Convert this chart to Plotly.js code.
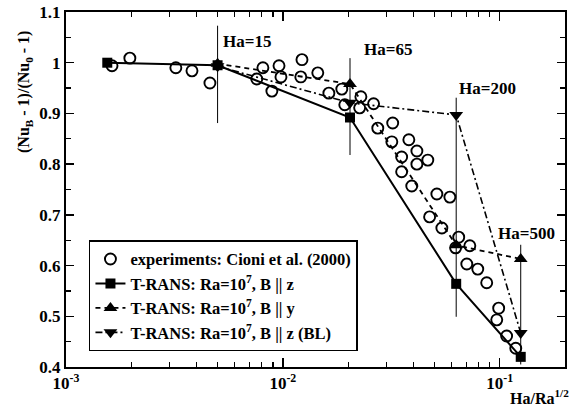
<!DOCTYPE html>
<html>
<head>
<meta charset="utf-8">
<script src="https://cdn.plot.ly/plotly-3.0.1.min.js"></script>
<style>html,body{margin:0;padding:0;background:#fff;}#plot{width:583px;height:410px;}</style>
</head>
<body>
<div id="plot"></div>
<script>
// Experimental data (Cioni et al. 2000)
const expX = [0.00163,0.00197,0.00321,0.00381,0.00461,0.00758,0.00809,0.0089,0.0096,0.0098,
  0.01225,0.0121,0.01449,0.0163,0.0187,0.0193,0.0229,0.0226,0.0262,0.0274,
  0.0321,0.0318,0.0381,0.0353,0.0415,0.0415,0.0466,0.0353,0.0393,0.0513,
  0.0589,0.0475,0.0541,0.0647,0.0626,0.0728,0.0705,0.0792,0.0871,0.0989,
  0.0969,0.1076,0.1186];
const expY = [0.994,1.009,0.990,0.984,0.960,0.968,0.990,0.944,0.994,0.972,
  1.006,0.972,0.980,0.940,0.948,0.917,0.933,0.911,0.919,0.871,
  0.881,0.844,0.848,0.814,0.826,0.800,0.808,0.785,0.757,0.741,
  0.735,0.696,0.674,0.656,0.635,0.639,0.603,0.593,0.566,0.516,
  0.493,0.461,0.437];

// T-RANS, B || z
const bzX = [0.00155,0.0050,0.0204,0.063,0.125];
const bzY = [1.000,0.995,0.892,0.564,0.420];
// T-RANS, B || y
const byX = [0.0050,0.0204,0.063,0.125];
const byY = [0.998,0.958,0.640,0.613];
// T-RANS, B || z (BL)
const blX = [0.0050,0.0204,0.063,0.125];
const blY = [0.993,0.921,0.897,0.467];

// Ha markers (vertical lines)
const haLabels = ['Ha=15','Ha=65','Ha=200','Ha=500'];
const haX = [0.0050,0.0204,0.063,0.125];
const haTop = [1.073,1.009,0.931,0.641];
const haBottom = [0.881,0.818,0.499,0.405];

// Axis ticks
const xTickVals = [0.001,0.01,0.1];
const xTickText = ['10<sup>-3</sup>','10<sup>-2</sup>','10<sup>-1</sup>'];
const xMinorVals = [0.002,0.003,0.004,0.005,0.006,0.007,0.008,0.009,
  0.02,0.03,0.04,0.05,0.06,0.07,0.08,0.09,0.2];

const legendNames = ['experiments: Cioni et al. (2000)',
  'T-RANS: Ra=10<sup>7</sup>, B || z',
  'T-RANS: Ra=10<sup>7</sup>, B || y',
  'T-RANS: Ra=10<sup>7</sup>, B || z (BL)'];

const FONT = '"Liberation Serif", serif';

const vx = [], vy = [];
haX.forEach((x,i)=>{ vx.push(x,x,null); vy.push(haBottom[i],haTop[i],null); });

const traces = [
  {x:vx, y:vy, mode:'lines', line:{color:'black', width:1}, showlegend:false, hoverinfo:'skip'},
  {x:bzX, y:bzY, name:legendNames[1], legendgroup:'g2', mode:'lines+markers',
   line:{color:'black', width:2}, marker:{symbol:'square', size:10, color:'black'}},
  {x:byX, y:byY, name:legendNames[2], legendgroup:'g3', mode:'lines+markers',
   line:{color:'black', width:1.8, dash:'5px,4px'}, marker:{symbol:'triangle-up', size:12, color:'black'}},
  {x:blX, y:blY, name:legendNames[3], legendgroup:'g4', mode:'lines+markers',
   line:{color:'black', width:1.6, dash:'7px,3px,2px,3px'}, marker:{symbol:'triangle-down', size:12, color:'black'}},
  {x:expX, y:expY, name:legendNames[0], legendgroup:'g1', mode:'markers',
   marker:{symbol:'circle-open', size:11, color:'black', line:{width:1.9, color:'black'}}}
];

const annXShift = [3, 12, 1, 6];
const annY = [1.041, 1.027, 0.950, 0.664];
const annAnchor = ['left','left','left','center'];
const annotations = haLabels.map((t,i)=>({
  text:'<b>'+t+'</b>', xref:'x', yref:'y', x:Math.log10(haX[i]), y:annY[i], xanchor:annAnchor[i], yanchor:'middle',
  xshift:annXShift[i], showarrow:false, font:{family:FONT, size:17, color:'black'}
}));
annotations.push({
  text:'<b>(Nu<sub>B</sub> - 1)/(Nu<sub>0</sub> - 1)</b>', xref:'paper', yref:'paper', x:-0.082, y:0.775,
  xanchor:'center', yanchor:'middle', textangle:-90, showarrow:false,
  font:{family:FONT, size:16, color:'black'}
});
annotations.push({
  text:'<b>Ha/Ra<sup>1/2</sup></b>', xref:'paper', yref:'paper', x:0.948, y:-0.085,
  xanchor:'center', yanchor:'middle', showarrow:false,
  font:{family:FONT, size:16, color:'black'}
});

const layout = {
  width:583, height:410,
  margin:{l:66, r:18, t:12, b:43},
  paper_bgcolor:'white', plot_bgcolor:'white',
  showlegend:true,
  legend:{x:0.046, y:0.357, xanchor:'left', yanchor:'top', bgcolor:'white',
    bordercolor:'black', borderwidth:1.5, traceorder:'grouped', tracegroupgap:0,
    font:{family:FONT, size:16.5, weight:'bold', color:'black'}, itemwidth:30},
  xaxis:{type:'log', range:[-3, Math.log10(0.2)], showline:true, linewidth:2, linecolor:'black',
    mirror:'ticks', ticks:'inside', ticklen:9, tickwidth:1.5, tickcolor:'black',
    tickvals:xTickVals, ticktext:xTickText.map(t=>'<b>'+t+'</b>'), showgrid:false, zeroline:false,
    tickfont:{family:FONT, size:17, color:'black'},
    minor:{tickvals:xMinorVals, ticks:'inside', ticklen:5, tickwidth:1.2, tickcolor:'black', showgrid:false}},
  yaxis:{range:[0.4,1.1], dtick:0.1, tick0:0.4, showline:true, linewidth:2, linecolor:'black',
    mirror:'ticks', ticks:'inside', ticklen:8, tickwidth:1.5, tickcolor:'black',
    showgrid:false, zeroline:false,
    tickfont:{family:FONT, size:17, weight:'bold', color:'black'},
    minor:{dtick:0.05, ticks:'inside', ticklen:5, tickwidth:1.2, tickcolor:'black', showgrid:false}},
  annotations:annotations
};

const ordered = [traces[0], traces[4], traces[1], traces[2], traces[3]];
Plotly.newPlot('plot', ordered, layout, {displayModeBar:false, staticPlot:true});
</script>
</body>
</html>
